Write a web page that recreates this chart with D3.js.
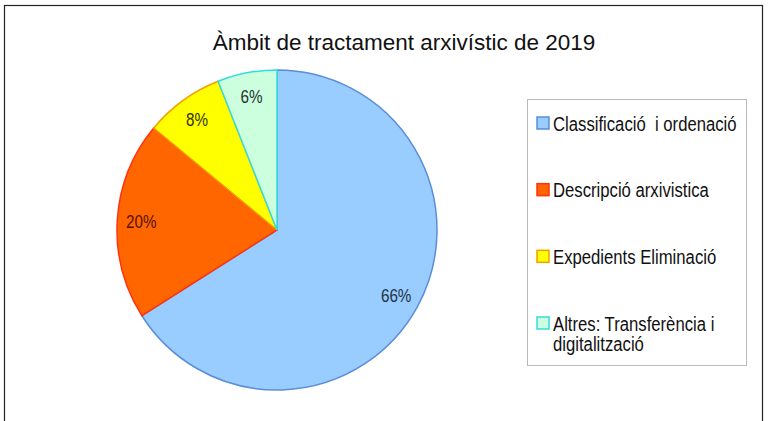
<!DOCTYPE html>
<html>
<head>
<meta charset="utf-8">
<script src="https://cdn.jsdelivr.net/npm/d3@7"></script>
<style>
  body { margin: 0; background: #fff; }
  text { font-family: "Liberation Sans", Arial, sans-serif; white-space: pre; }
</style>
</head>
<body>
<svg id="chart"></svg>
<script>
// Chart data
const categories = ["Classificació  i ordenació", "Descripció arxivística", "Expedients Eliminació", "Altres: Transferència i digitalització"];
const values = [66, 20, 8, 6];
const legendLines = [["Classificació  i ordenació"], ["Descripció arxivistica"], ["Expedients Eliminació"], ["Altres: Transferència i", "digitalització"]];
const fills = ["#99CCFF", "#FF6600", "#FFFF00", "#CCFFDD"];
const strokes = ["#5A8ED6", "#FF3311", "#F0A000", "#33DDDD"];
const labelColors = ["#223344", "#551100", "#333300", "#223333"];

const W = 772, H = 421;
const svg = d3.select("#chart").attr("width", W).attr("height", H);

// Outer frame (bottom edge runs off the picture)
svg.append("rect")
  .attr("x", 4.5).attr("y", 5.5)
  .attr("width", 758).attr("height", 440)
  .attr("fill", "none")
  .attr("stroke", "#222")
  .attr("stroke-width", 1.2);

// Title
svg.append("text")
  .attr("x", 404).attr("y", 50)
  .attr("text-anchor", "middle")
  .style("font-size", "22.5px")
  .attr("fill", "#111")
  .text("Àmbit de tractament arxivístic de 2019");

// Pie
const cx = 277, cy = 230, r = 160;
const pie = d3.pie().sort(null).value(d => d)(values);
const arc = d3.arc().innerRadius(0).outerRadius(r);
const labelArc = d3.arc().innerRadius(136).outerRadius(136);

const g = svg.append("g").attr("transform", `translate(${cx},${cy})`);

g.selectAll("path.slice")
  .data(pie)
  .enter()
  .append("path")
  .attr("class", "slice")
  .attr("d", arc)
  .attr("fill", (d, i) => fills[i])
  .attr("stroke", (d, i) => strokes[i])
  .attr("stroke-width", 1.5);

// labels are a bit condensed in the original
g.selectAll("text.lbl")
  .data(pie)
  .enter()
  .append("text")
  .attr("class", "lbl")
  .attr("transform", d => `translate(${labelArc.centroid(d)}) scale(0.87,1)`)
  .attr("text-anchor", "middle")
  .attr("dy", "0.36em")
  .style("font-size", "17.5px")
  .attr("fill", (d, i) => labelColors[i])
  .text(d => d.data + "%");

// Legend
const legend = svg.append("g");
legend.append("rect")
  .attr("x", 527.5).attr("y", 99.5)
  .attr("width", 219).attr("height", 266)
  .attr("fill", "#fff")
  .attr("stroke", "#bbb");

const legendY = d3.scalePoint().domain(d3.range(categories.length)).range([123, 323]);

const item = legend.selectAll("g.item")
  .data(categories)
  .enter()
  .append("g")
  .attr("class", "item")
  .attr("transform", (d, i) => `translate(536,${legendY(i)})`);

item.append("rect")
  .attr("x", 1).attr("y", -6)
  .attr("width", 12).attr("height", 12)
  .attr("fill", (d, i) => fills[i])
  .attr("stroke", (d, i) => strokes[i])
  .attr("stroke-width", 1.5);

item.append("text")
  .attr("transform", "translate(17,0) scale(0.835,1)")
  .style("font-size", "20px")
  .attr("fill", "#111")
  .selectAll("tspan")
  .data((d, i) => legendLines[i])
  .enter()
  .append("tspan")
  .attr("x", 0)
  .attr("y", (d, j) => 7.5 + j * 21)
  .text(d => d);
</script>
</body>
</html>
